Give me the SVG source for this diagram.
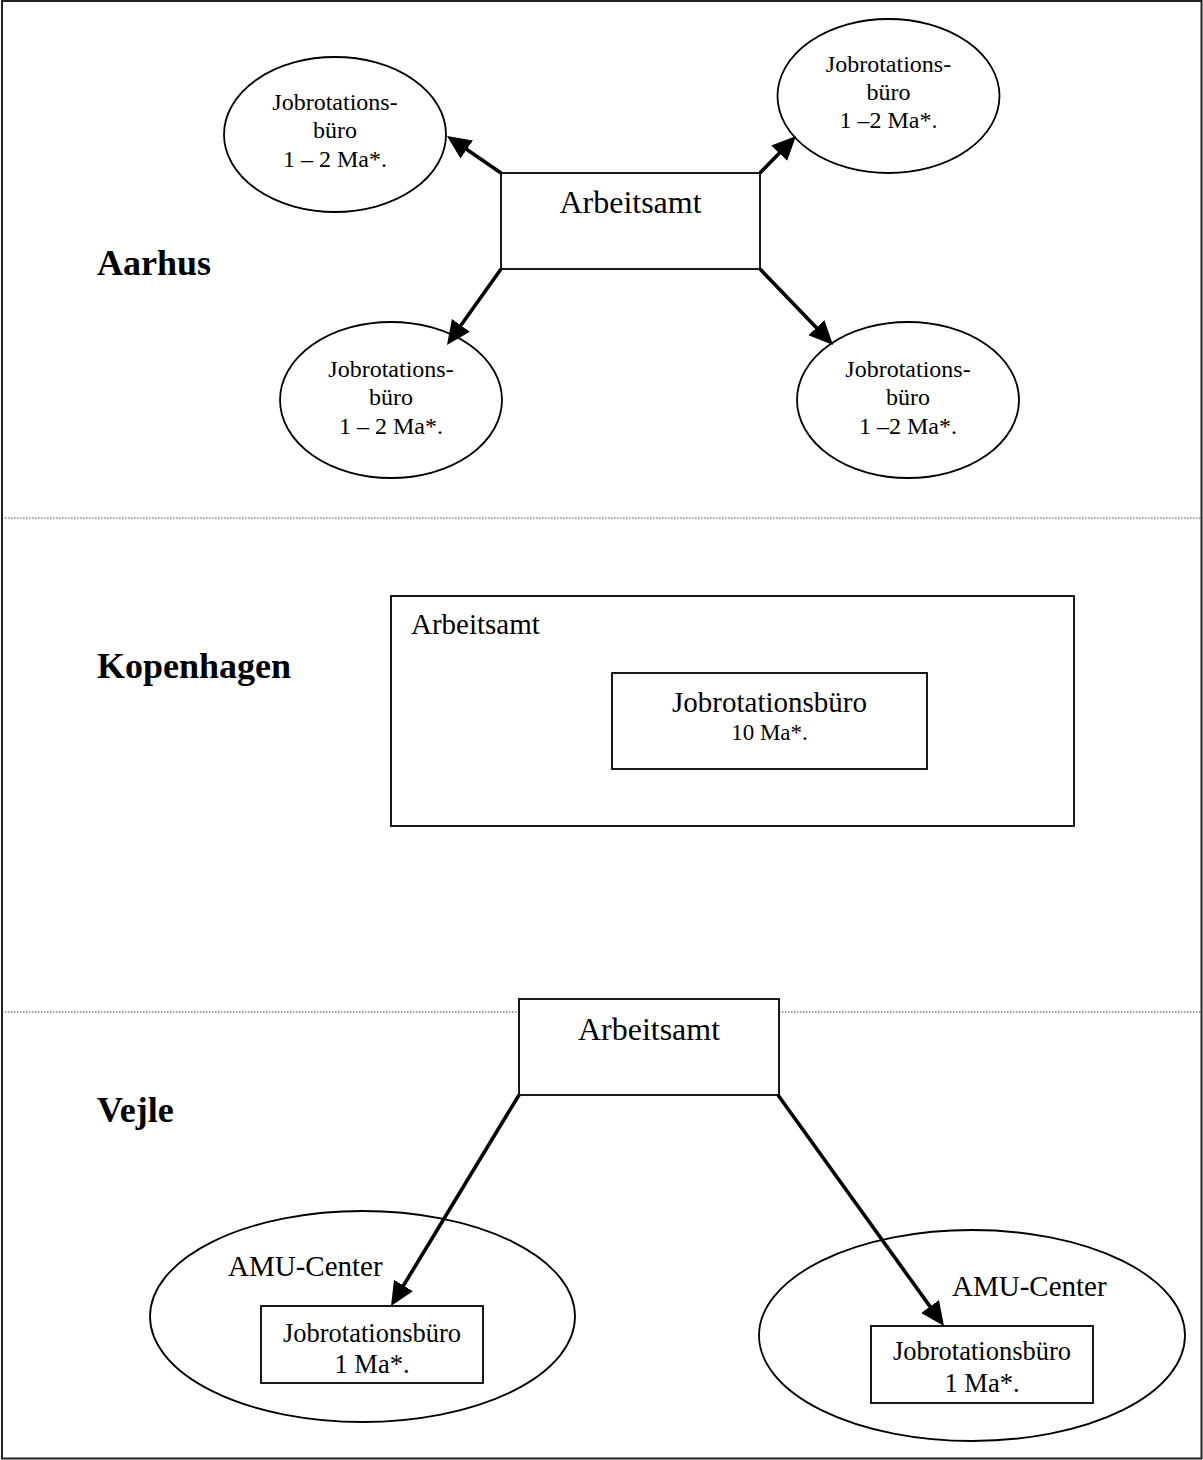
<svg xmlns="http://www.w3.org/2000/svg" width="1203" height="1460" viewBox="0 0 1203 1460">
  <style>
    text { font-family: "Liberation Serif", "Times New Roman", serif; fill: #000; }
    .shape { fill: #fff; stroke: #000; stroke-width: 1.8; }
    .label { font-weight: bold; font-size: 36px; }
    .conn { stroke: #000; stroke-width: 3.6; fill: none; marker-end: url(#arrow); }
    .sep { stroke: #444; stroke-width: 1.2; stroke-dasharray: 1.5 1.5; }
    .mid { text-anchor: middle; }
  </style>
  <defs>
    <marker id="arrow" markerUnits="userSpaceOnUse" markerWidth="26" markerHeight="24" refX="14" refY="11" orient="auto">
      <path d="M0,0 L24,11 L0,22 z" fill="#000"/>
    </marker>
  </defs>
  <rect x="0" y="0" width="1203" height="1460" fill="#fff"/>
  <rect x="2" y="1" width="1199.5" height="1457.5" fill="none" stroke="#222" stroke-width="2"/>

  <!-- separators -->
  <line class="sep" x1="2" y1="518" x2="1201" y2="518"/>
  <line class="sep" x1="2" y1="1012" x2="1201" y2="1012"/>

  <!-- section labels -->
  <text class="label" x="97" y="275">Aarhus</text>
  <text class="label" x="97" y="678">Kopenhagen</text>
  <text class="label" x="97" y="1122">Vejle</text>

  <!-- Aarhus -->
  <g id="aarhus-arbeitsamt">
    <rect class="shape" x="501" y="173" width="259" height="96"/>
    <text class="mid" x="630.5" y="213" font-size="32">Arbeitsamt</text>
  </g>
  <g id="aarhus-jb-tl">
    <ellipse class="shape" cx="335" cy="134.5" rx="111" ry="77.5"/>
    <text class="mid" x="335" y="110" font-size="24">Jobrotations-</text>
    <text class="mid" x="335" y="138" font-size="24">büro</text>
    <text class="mid" x="335" y="167" font-size="24">1 – 2 Ma*.</text>
  </g>
  <g id="aarhus-jb-tr">
    <ellipse class="shape" cx="888.5" cy="96" rx="111" ry="77"/>
    <text class="mid" x="888.5" y="72" font-size="24">Jobrotations-</text>
    <text class="mid" x="888.5" y="100" font-size="24">büro</text>
    <text class="mid" x="888.5" y="128" font-size="24">1 –2 Ma*.</text>
  </g>
  <g id="aarhus-jb-bl">
    <ellipse class="shape" cx="391" cy="400" rx="111" ry="78"/>
    <text class="mid" x="391" y="377" font-size="24">Jobrotations-</text>
    <text class="mid" x="391" y="405" font-size="24">büro</text>
    <text class="mid" x="391" y="434" font-size="24">1 – 2 Ma*.</text>
  </g>
  <g id="aarhus-jb-br">
    <ellipse class="shape" cx="908" cy="400" rx="111" ry="78"/>
    <text class="mid" x="908" y="377" font-size="24">Jobrotations-</text>
    <text class="mid" x="908" y="405" font-size="24">büro</text>
    <text class="mid" x="908" y="434" font-size="24">1 –2 Ma*.</text>
  </g>

  <!-- Kopenhagen -->
  <g id="kop-arbeitsamt">
    <rect class="shape" x="391" y="596" width="683" height="230" stroke-width="2"/>
    <text x="411" y="634" font-size="29">Arbeitsamt</text>
  </g>
  <g id="kop-jb">
    <rect class="shape" x="612" y="673" width="315" height="96" stroke-width="2"/>
    <text class="mid" x="769.5" y="712" font-size="29">Jobrotationsbüro</text>
    <text class="mid" x="769.5" y="740" font-size="23">10 Ma*.</text>
  </g>

  <!-- Vejle -->
  <g id="vejle-arbeitsamt">
    <rect class="shape" x="519" y="999" width="260" height="96"/>
    <text class="mid" x="649" y="1040" font-size="32">Arbeitsamt</text>
  </g>
  <g id="vejle-amu-left">
    <ellipse class="shape" cx="362.5" cy="1316.5" rx="212.5" ry="105.5"/>
    <text x="228" y="1276" font-size="29">AMU-Center</text>
  </g>
  <g id="vejle-jb-left">
    <rect class="shape" x="261" y="1306" width="222" height="77"/>
    <text class="mid" x="372" y="1342" font-size="26.5">Jobrotationsbüro</text>
    <text class="mid" x="372" y="1373" font-size="26.5">1 Ma*.</text>
  </g>
  <g id="vejle-amu-right">
    <ellipse class="shape" cx="972" cy="1335.5" rx="213" ry="105.5"/>
    <text x="952" y="1296" font-size="29">AMU-Center</text>
  </g>
  <g id="vejle-jb-right">
    <rect class="shape" x="871" y="1326" width="222" height="77"/>
    <text class="mid" x="982" y="1360" font-size="26.5">Jobrotationsbüro</text>
    <text class="mid" x="982" y="1392" font-size="26.5">1 Ma*.</text>
  </g>

  <!-- connectors -->
  <g id="connectors">
    <line class="conn" x1="501" y1="173" x2="455.2" y2="141.6"/>
    <line class="conn" x1="760" y1="173" x2="789.0" y2="143.2"/>
    <line class="conn" x1="501" y1="269" x2="452.8" y2="336.8"/>
    <line class="conn" x1="760" y1="269" x2="826.1" y2="337.8"/>
    <line class="conn" x1="519" y1="1095" x2="396.2" y2="1297.5"/>
    <line class="conn" x1="778" y1="1095" x2="938.2" y2="1317.9"/>
  </g>
</svg>
